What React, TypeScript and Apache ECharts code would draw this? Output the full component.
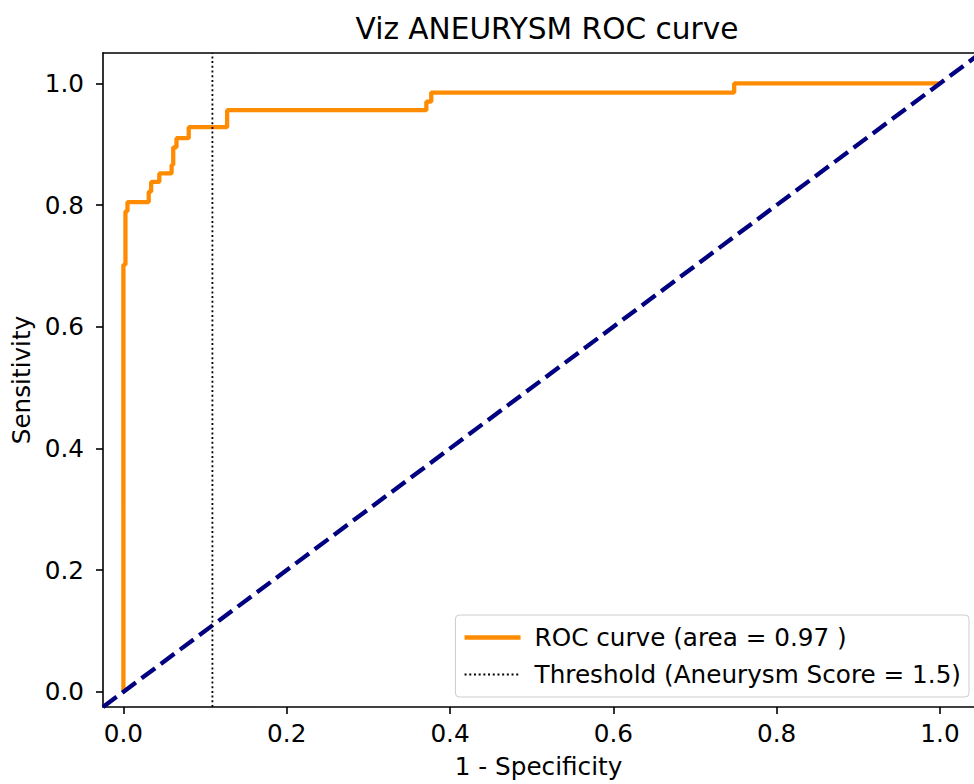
import React, { useEffect, useRef } from "react";
import * as echarts from "echarts";

const TITLE = "Viz ANEURYSM ROC curve";
const X_LABEL = "1 - Specificity";
const Y_LABEL = "Sensitivity";
const ROC_NAME = "ROC curve (area = 0.97 )";
const THRESH_NAME = "Threshold (Aneurysm Score = 1.5)";

// ROC curve points (false positive rate, true positive rate)
const FPR = [0, 0, 0.0025, 0.0025, 0.005, 0.005, 0.031, 0.031, 0.034, 0.034, 0.044, 0.044, 0.059, 0.059, 0.061, 0.061, 0.065, 0.065, 0.08, 0.08, 0.127, 0.127, 0.371, 0.371, 0.377, 0.377, 0.748, 0.748, 1.0];
const TPR = [0, 0.702, 0.702, 0.79, 0.79, 0.805, 0.805, 0.822, 0.822, 0.838, 0.838, 0.852, 0.852, 0.866, 0.866, 0.895, 0.895, 0.91, 0.91, 0.928, 0.928, 0.956, 0.956, 0.97, 0.97, 0.985, 0.985, 1.0, 1.0];

// chance diagonal
const DIAG_X = [-0.025, 1.05];
const DIAG_Y = [-0.025, 1.05];

// threshold vertical line
const THRESH_X = [0.109, 0.109];
const THRESH_Y = [-0.025, 1.05];

const TICKS = [0, 0.2, 0.4, 0.6, 0.8, 1.0];
const X_MIN = -0.025;
const X_MAX = 1.0417;
const Y_MIN = -0.025;
const Y_MAX = 1.05;

const FONT = "DejaVu Sans";
const FS = 24.7;
const ORANGE = "#ff8c00";
const NAVY = "#000080";

export default function App() {
  const ref = useRef<HTMLDivElement>(null);
  useEffect(() => {
    if (!ref.current) return;
    const chart = echarts.init(ref.current, null, { renderer: "svg" });
    const rocLine = { color: ORANGE, width: 4.3 };
    const threshLine = { color: "#000", width: 1.8, type: [2, 2.7] };
    const axisCommon = {
      type: "value" as const,
      splitLine: { show: false },
      axisLine: { show: true, onZero: false, lineStyle: { color: "#000", width: 1.6 } },
      axisTick: { show: true, length: 7, lineStyle: { color: "#000", width: 1.6 }, customValues: TICKS },
      axisLabel: {
        color: "#000",
        fontFamily: FONT,
        fontSize: FS,
        customValues: TICKS,
        formatter: (v: number) => v.toFixed(1),
      },
    };
    chart.setOption({
      animation: false,
      backgroundColor: "#fff",
      title: {
        text: TITLE,
        left: 542,
        top: 9,
        textAlign: "center",
        textStyle: { fontFamily: FONT, fontSize: 29.6, fontWeight: "normal", color: "#000" },
      },
      grid: { left: 103, top: 53, right: 0, bottom: 74, containLabel: false },
      legend: {
        data: [
          { name: ROC_NAME, lineStyle: { ...rocLine } },
          { name: THRESH_NAME, lineStyle: { ...threshLine } },
        ],
        orient: "vertical",
        right: 5,
        bottom: 87,
        itemWidth: 56,
        itemHeight: 14,
        itemGap: 12,
        padding: [10, 8, 10, 7],
        backgroundColor: "rgba(255,255,255,0.8)",
        borderColor: "#cccccc",
        borderWidth: 1,
        borderRadius: 4,
        itemStyle: { opacity: 0 },
        textStyle: {
          fontFamily: FONT,
          fontSize: FS,
          color: "#000",
          lineHeight: 25,
          padding: [0, 0, 0, 9],
        },
      },
      xAxis: [
        {
          ...axisCommon,
          min: X_MIN,
          max: X_MAX,
          position: "bottom",
          name: X_LABEL,
          nameLocation: "middle",
          nameGap: 47,
          nameTextStyle: { fontFamily: FONT, fontSize: FS, color: "#000" },
          axisLabel: { ...axisCommon.axisLabel, margin: 14 },
        },
        {
          type: "value",
          min: X_MIN,
          max: X_MAX,
          position: "top",
          splitLine: { show: false },
          axisLine: { show: true, onZero: false, lineStyle: { color: "#000", width: 1.6 } },
          axisTick: { show: false },
          axisLabel: { show: false },
        },
      ],
      yAxis: {
        ...axisCommon,
        min: Y_MIN,
        max: Y_MAX,
        name: Y_LABEL,
        nameLocation: "middle",
        nameGap: 67,
        nameTextStyle: { fontFamily: FONT, fontSize: FS, color: "#000" },
        axisLabel: { ...axisCommon.axisLabel, margin: 19 },
      },
      series: [
        {
          name: ROC_NAME,
          type: "line",
          xAxisIndex: 0,
          data: FPR.map((x, i) => [x, TPR[i]]),
          symbol: "none",
          lineStyle: rocLine,
          itemStyle: { color: ORANGE },
          z: 2,
        },
        {
          name: "diag",
          type: "line",
          xAxisIndex: 0,
          data: DIAG_X.map((x, i) => [x, DIAG_Y[i]]),
          symbol: "none",
          lineStyle: { color: NAVY, width: 4.3, type: [17, 7] },
          itemStyle: { color: NAVY },
          z: 3,
        },
        {
          name: THRESH_NAME,
          type: "line",
          xAxisIndex: 0,
          data: THRESH_X.map((x, i) => [x, THRESH_Y[i]]),
          symbol: "none",
          lineStyle: threshLine,
          itemStyle: { color: "#000" },
          z: 4,
        },
      ],
    });
    return () => chart.dispose();
  }, []);
  return (
    <div
      ref={ref}
      style={{ position: "absolute", left: 0, top: 0, width: 974, height: 784 }}
    />
  );
}
